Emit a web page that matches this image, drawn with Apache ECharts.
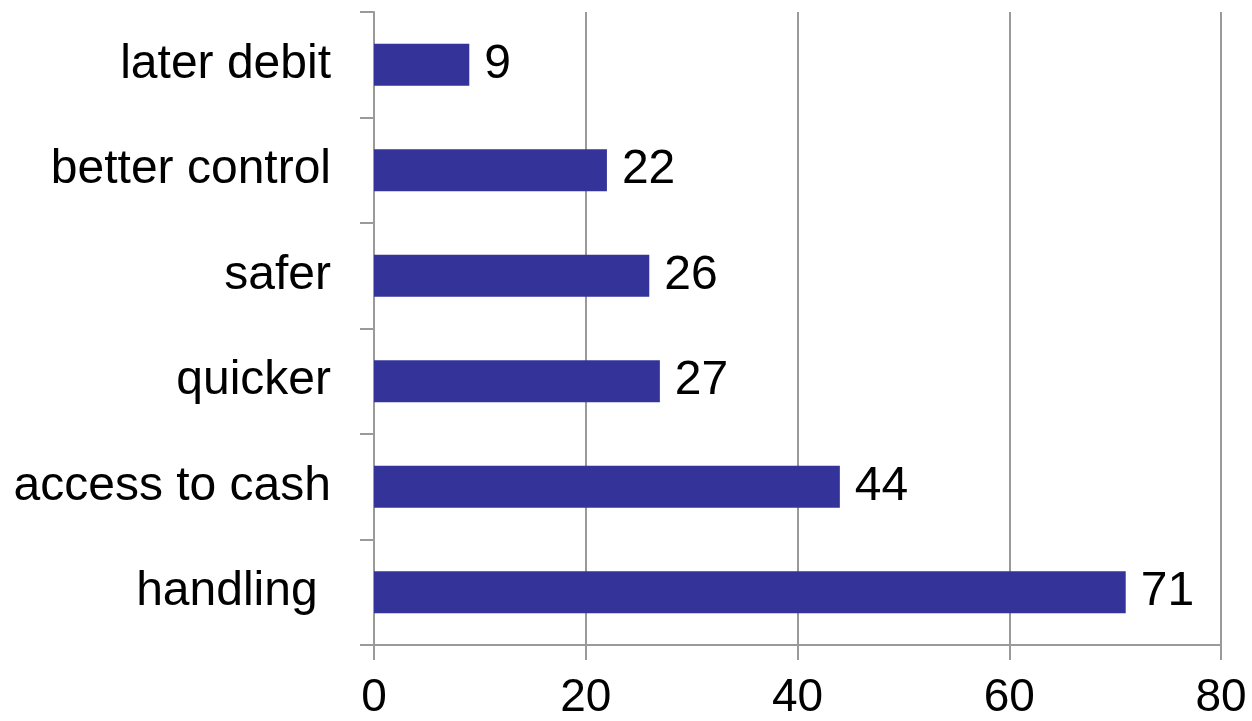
<!DOCTYPE html>
<html>
<head>
<meta charset="utf-8">
<script src="https://cdn.jsdelivr.net/npm/echarts@6/dist/echarts.min.js"></script>
<style>
  html, body { margin: 0; padding: 0; background: #fff; }
  #chart { width: 1252px; height: 721px; }
</style>
</head>
<body>
<div id="chart"></div>
<script>
// Reasons, listed bottom to top as drawn on the category axis
const categories = ['handling ', 'access to cash', 'quicker', 'safer', 'better control', 'later debit'];
const counts = [71, 44, 27, 26, 22, 9];
const xTicks = [0, 20, 40, 60, 80];

const FONT = '"Liberation Sans", Arial, sans-serif';
const GRID_GRAY = '#9a9a9a';

const chart = echarts.init(document.getElementById('chart'), null, { renderer: 'canvas' });
chart.setOption({
  animation: false,
  backgroundColor: '#ffffff',
  grid: { left: 374, right: 31, top: 12, bottom: 76, containLabel: false, outerBoundsMode: 'none' },
  xAxis: {
    type: 'value',
    min: xTicks[0],
    max: xTicks[xTicks.length - 1],
    interval: xTicks[1] - xTicks[0],
    axisLine: { show: true, lineStyle: { color: GRID_GRAY, width: 2 } },
    axisTick: { show: true, length: 15, lineStyle: { color: GRID_GRAY, width: 2 } },
    splitLine: { show: true, lineStyle: { color: GRID_GRAY, width: 2 } },
    axisLabel: { color: '#000', fontSize: 46, fontFamily: FONT, margin: 30 }
  },
  yAxis: {
    type: 'category',
    data: categories,
    axisLine: { show: true, lineStyle: { color: GRID_GRAY, width: 2 } },
    axisTick: { show: true, length: 14, lineStyle: { color: GRID_GRAY, width: 2 } },
    axisLabel: { color: '#000', fontSize: 48, fontFamily: FONT, margin: 43 }
  },
  series: [{
    type: 'bar',
    data: counts,
    barWidth: 42,
    itemStyle: { color: '#333399' },
    label: {
      show: true,
      position: 'right',
      distance: 15,
      color: '#000',
      fontSize: 48,
      fontFamily: FONT
    }
  }]
});
</script>
</body>
</html>
